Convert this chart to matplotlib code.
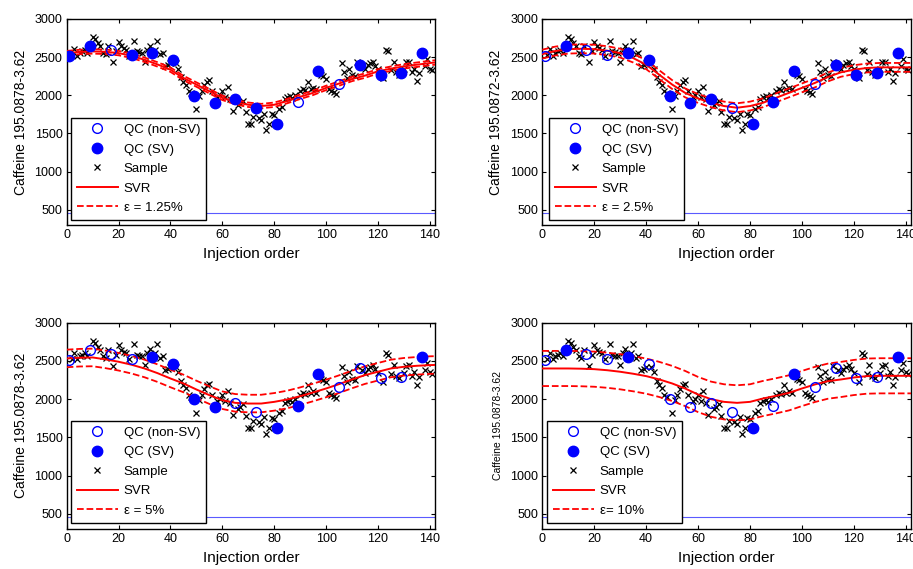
import matplotlib
matplotlib.use("Agg")
import matplotlib.pyplot as plt
import numpy as np

plt.rcParams['font.family'] = ['Liberation Sans', 'DejaVu Sans']

# ---------------- data ----------------
qc_x = [1, 9, 17, 25, 33, 41, 49, 57, 65, 73, 81, 89, 97, 105, 113, 121, 129, 137]
qc_y = [2510, 2648, 2588, 2531, 2553, 2457, 1997, 1893, 1945, 1837, 1628, 1911,
        2323, 2154, 2401, 2271, 2293, 2553]

# support-vector flags per panel (1 = SV / filled)
sv_p1 = [1, 1, 0, 1, 1, 1, 1, 1, 1, 1, 1, 0, 1, 0, 1, 1, 1, 1]
sv_p2 = [0, 1, 0, 0, 1, 1, 1, 1, 1, 0, 1, 1, 1, 0, 1, 1, 1, 1]
sv_p3 = [0, 0, 0, 0, 1, 1, 1, 1, 0, 0, 1, 1, 1, 0, 0, 0, 0, 1]
sv_p4 = [0, 1, 0, 0, 1, 0, 0, 0, 0, 0, 1, 0, 1, 0, 0, 0, 0, 1]

sample_x = [2, 3, 4, 5, 6, 7, 8, 10, 11, 12, 13, 14, 15, 16, 18, 19, 20, 21, 22, 23, 24,
            26, 27, 28, 29, 30, 31, 32, 34, 35, 36, 37, 38, 39, 40, 42, 43, 44, 45, 46, 47, 48,
            50, 51, 52, 53, 54, 55, 56, 58, 59, 60, 61, 62, 63, 64, 66, 67, 68, 69, 70, 71, 72,
            74, 75, 76, 77, 78, 79, 80, 82, 83, 84, 85, 86, 87, 88, 90, 91, 92, 93, 94, 95, 96,
            98, 99, 100, 101, 102, 103, 104, 106, 107, 108, 109, 110, 111, 112,
            114, 115, 116, 117, 118, 119, 120, 122, 123, 124, 125, 126, 127, 128,
            130, 131, 132, 133, 134, 135, 136, 138, 139, 140, 141]
sample_y = [2530, 2605, 2520, 2560, 2580, 2600, 2560, 2760, 2740, 2680, 2640, 2560, 2540, 2640,
            2432, 2580, 2705, 2640, 2620, 2600, 2520,
            2718, 2580, 2570, 2560, 2440, 2600, 2650, 2600, 2718, 2540, 2560, 2380, 2400, 2420,
            2420, 2350, 2240, 2180, 2140, 2050, 2030,
            1815, 1990, 2050, 2130, 2180, 2200, 2060, 1980, 2000, 2050, 1980, 2106, 1950, 1793,
            1870, 1900, 1930, 1780, 1620, 1620, 1720,
            1700, 1680, 1760, 1546, 1620, 1750, 1740, 1820, 1850, 1950, 1980, 1990, 1960, 2000,
            2050, 2080, 2070, 2180, 2080, 2100, 2080,
            2260, 2250, 2220, 2080, 2060, 2040, 2020, 2423, 2300, 2230, 2350, 2260, 2250, 2430,
            2380, 2340, 2400, 2420, 2440, 2390, 2340, 2230, 2600, 2580, 2330, 2440, 2300, 2270,
            2340, 2430, 2440, 2300, 2350, 2190, 2290, 2380, 2470, 2350, 2330]

svr_x = [0, 5, 10, 15, 20, 25, 30, 35, 40, 45, 50, 55, 60, 65, 70, 75, 80, 85, 90, 95,
         100, 105, 110, 115, 120, 125, 130, 135, 140, 142]
svr_p1 = [2553, 2568, 2575, 2570, 2553, 2518, 2466, 2405, 2336, 2227, 2141, 2054, 1967, 1911,
          1876, 1859, 1876, 1924, 1980, 2032, 2097, 2154, 2214, 2258, 2314, 2349, 2379, 2401,
          2423, 2430]
svr_p2 = [2540, 2580, 2605, 2610, 2605, 2585, 2553, 2488, 2401, 2271, 2141, 2032, 1958, 1902,
          1859, 1837, 1859, 1902, 1967, 2032, 2097, 2162, 2240, 2301, 2336, 2358, 2366, 2366,
          2366, 2366]
svr_p3 = [2532, 2542, 2545, 2520, 2489, 2450, 2401, 2340, 2270, 2205, 2126, 2052, 1986, 1951,
          1942, 1942, 1964, 1995, 2038, 2087, 2139, 2196, 2257, 2314, 2358, 2401, 2423, 2436,
          2445, 2447]
svr_p4 = [2401, 2401, 2401, 2398, 2392, 2378, 2358, 2332, 2301, 2258, 2205, 2139, 2060, 1999,
          1964, 1951, 1964, 2008, 2043, 2082, 2139, 2192, 2235, 2257, 2283, 2301, 2305, 2305,
          2305, 2305]

eps_labels = ["\u03b5 = 1.25%", "\u03b5 = 2.5%", "\u03b5 = 5%", "\u03b5= 10%"]
eps_halfwidth = [29, 58, 115, 230]
ylabels = ["Caffeine 195.0878-3.62", "Caffeine 195.0872-3.62",
           "Caffeine 195.0878-3.62", "Caffeine 195.0878-3.62"]
ylabel_sizes = [10, 10, 10, 7.5]
threshold = 460

svrs = [svr_p1, svr_p2, svr_p3, svr_p4]
svs = [sv_p1, sv_p2, sv_p3, sv_p4]

# ---------------- figure ----------------
fig = plt.figure(figsize=(9.13, 5.69), dpi=100)
W, H = 913, 569
boxes = [(66.7, 19, 435, 225), (542.3, 19, 911, 225),
         (66.7, 322.7, 435, 529), (542.3, 322.7, 911, 529)]
leg_anchor = [(71, 220), (549, 220), (71, 522.7), (547, 522.7)]

blue = '#0000ff'
red = '#ff0000'

for i in range(4):
    l, t, r, b = boxes[i]
    ax = fig.add_axes([l / W, 1 - b / H, (r - l) / W, (b - t) / H])
    sx = np.array(svr_x)
    sy = np.array(svrs[i])
    hw = eps_halfwidth[i]
    sv = np.array(svs[i], dtype=bool)
    qx = np.array(qc_x)
    qy = np.array(qc_y)

    ax.axhline(threshold, color='#5a5aff', lw=0.8, zorder=1)
    ax.plot(sample_x, sample_y, 'x', color='black', ms=3.8, mew=0.9, zorder=3)
    l_svr, = ax.plot(sx, sy, '-', color=red, lw=1.4, zorder=4)
    l_eps, = ax.plot(sx, sy + hw, '--', color=red, lw=1.3, zorder=4)
    ax.plot(sx, sy - hw, '--', color=red, lw=1.3, zorder=4)
    h_open, = ax.plot(qx[~sv], qy[~sv], 'o', mfc='none', mec=blue, mew=1.0, ms=7,
                      zorder=5)
    h_fill, = ax.plot(qx[sv], qy[sv], 'o', mfc=blue, mec=blue, ms=7.5, zorder=5)
    h_samp = plt.Line2D([], [], ls='none', marker='x', color='black', ms=3.8, mew=0.9)

    ax.set_xlim(0, 142)
    ax.set_ylim(300, 3000)
    ax.set_xticks(range(0, 141, 20))
    ax.set_yticks(range(500, 3001, 500))
    ax.tick_params(direction='in', top=True, right=True, length=3, labelsize=9,
                   width=0.8, pad=3)
    for s in ax.spines.values():
        s.set_linewidth(1.0)
        s.set_color('black')
    ax.set_xlabel('Injection order', fontsize=11, labelpad=4)
    ax.set_ylabel(ylabels[i], fontsize=ylabel_sizes[i], labelpad=5)

    lx, ly = leg_anchor[i]
    axx = (lx - l) / (r - l)
    axy = (b - ly) / (b - t)
    leg = ax.legend([h_open, h_fill, h_samp, l_svr, l_eps],
                    ['QC (non-SV)', 'QC (SV)', 'Sample', 'SVR', eps_labels[i]],
                    loc='lower left', bbox_to_anchor=(axx, axy), borderaxespad=0,
                    fontsize=9.5, frameon=True, fancybox=False, numpoints=1,
                    handlelength=3.1, handletextpad=0.45, labelspacing=0.55,
                    borderpad=0.45)
    fr = leg.get_frame()
    fr.set_edgecolor('black')
    fr.set_linewidth(1.0)
    fr.set_alpha(1)
    leg.set_zorder(10)

fig.savefig('out.png', dpi=100)
